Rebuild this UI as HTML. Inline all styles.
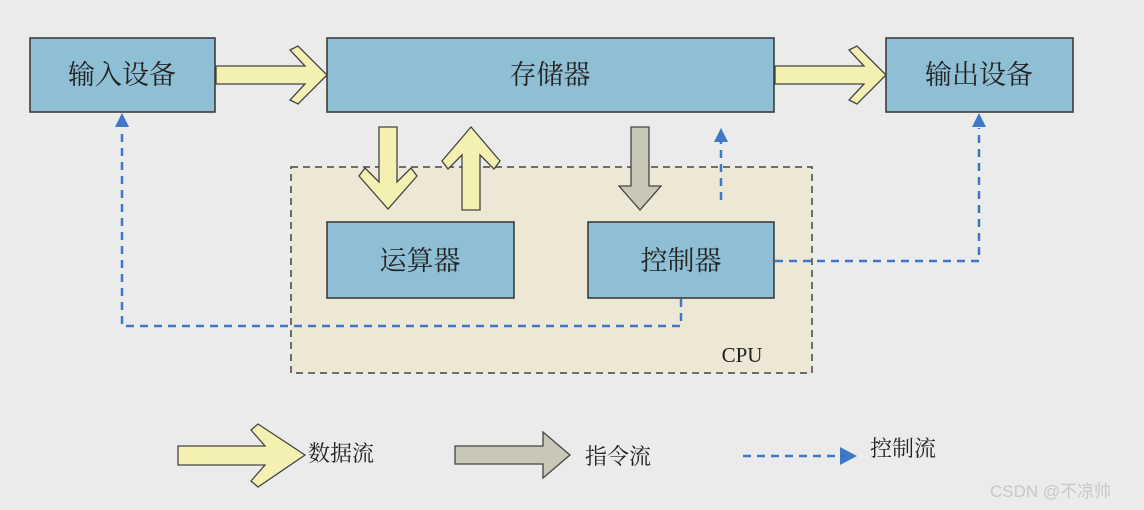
<!DOCTYPE html>
<html><head><meta charset="utf-8"><style>
body{margin:0;background:#ebebeb;}
svg{display:block}
text{font-family:"Liberation Serif","Noto Serif CJK SC",serif;fill:#222}
</style></head><body>
<svg width="1144" height="510" viewBox="0 0 1144 510" xmlns="http://www.w3.org/2000/svg">
<rect width="1144" height="510" fill="#ebebeb"/>
<rect x="291" y="167" width="521" height="206" fill="#ece8d5" stroke="#444" stroke-width="1.5" stroke-dasharray="7,5"/>
<g fill="#8fbfd4" stroke="#333" stroke-width="1.5">
<rect x="30" y="38" width="185" height="74"/>
<rect x="327" y="38" width="447" height="74"/>
<rect x="886" y="38" width="187" height="74"/>
<rect x="327" y="222" width="187" height="76"/>
<rect x="588" y="222" width="186" height="76"/>
</g>
<g font-size="27" text-anchor="middle">
<text x="122" y="84">输入设备</text>
<text x="550" y="84">存储器</text>
<text x="979" y="84">输出设备</text>
<text x="420" y="270">运算器</text>
<text x="681" y="270">控制器</text>
</g>
<text x="742" y="362" font-size="21" text-anchor="middle">CPU</text>
<g stroke="#444" stroke-width="1.3" fill="#f4f0b2">
<path d="M216,66 H305 L290,50 L298,46 L327,75 L298,104 L290,100 L305,84 H216Z"/>
<path d="M775,66 H864 L849,50 L857,46 L886,75 L857,104 L849,100 L864,84 H775Z"/>
<path d="M379,127 H397 V182 L411,168 L417,176 L388,209 L359,176 L365,168 L379,182Z"/>
<path d="M462,210 H480 V155 L494,169 L500,161 L471,127 L442,161 L448,169 L462,155Z"/>
<path d="M178,446 H265 L251,430 L258,424 L305,455 L258,487 L251,481 L265,465 H178Z"/>
</g>
<g stroke="#444" stroke-width="1.3" fill="#c9c8b6">
<path d="M631,127 H649 V186 H661 L640,210 L619,186 H631Z"/>
<path d="M455,446 H543 V432 L570,455 L543,478 V464 H455Z"/>
</g>
<g stroke="#3f78c8" stroke-width="2.5" fill="none" stroke-dasharray="8,6">
<path d="M721,200 V142"/>
<path d="M775,261 H979 V128"/>
<path d="M681,299 V326 H122 V128"/>
<path d="M743,456 H840"/>
</g>
<g fill="#3f78c8">
<path d="M714,142 L721,128 L728,142Z"/>
<path d="M972,127 L979,113 L986,127Z"/>
<path d="M115,127 L122,113 L129,127Z"/>
<path d="M840,447 L857,456 L840,465Z"/>
</g>
<g font-size="22">
<text x="308" y="461">数据流</text>
<text x="585" y="464">指令流</text>
<text x="870" y="456">控制流</text>
</g>
<text x="990" y="497" font-size="17" style="fill:#c8c8c8;font-family:'Liberation Sans','Noto Sans CJK SC',sans-serif">CSDN @不凉帅</text>
</svg>
</body></html>
